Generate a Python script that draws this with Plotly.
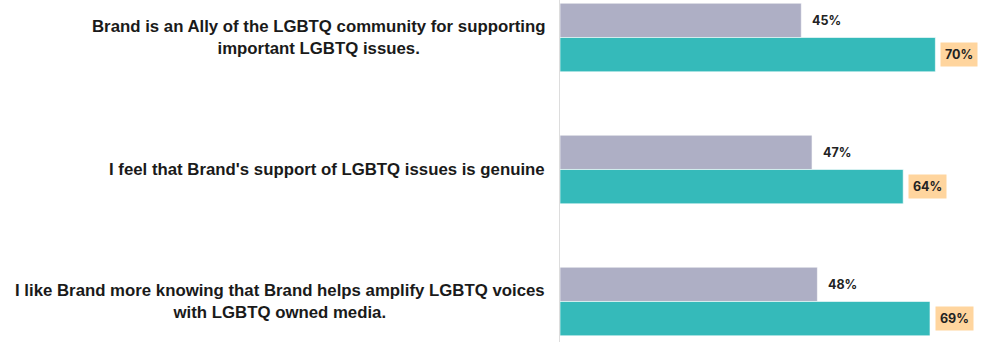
import plotly.graph_objects as go

categories = [
    "Brand is an Ally of the LGBTQ community for supporting<br>important LGBTQ issues.",
    "I feel that Brand's support of LGBTQ issues is genuine",
    "I like Brand more knowing that Brand helps amplify LGBTQ voices<br>with LGBTQ owned media.",
]
baseline_values = [45, 47, 48]
brand_values = [70, 64, 69]

GRAY = "#AEAFC5"
TEAL = "#35BABA"
LABEL_BG = "#FFD59E"

pos = list(range(len(categories)))

fig = go.Figure()
fig.add_trace(go.Bar(
    y=pos, x=baseline_values, orientation="h", name="Baseline",
    marker=dict(color=GRAY, line=dict(color="rgba(255,255,255,0.6)", width=1)),
))
fig.add_trace(go.Bar(
    y=pos, x=brand_values, orientation="h", name="Brand",
    marker=dict(color=TEAL, line=dict(color="rgba(255,255,255,0.6)", width=1)),
))

bargap = 0.48
half = (1 - bargap) / 4  # centre offset of each bar within its group

annotations = []
for i, cat in enumerate(categories):
    bold_cat = "<br>".join(f"<b>{part}</b>" for part in cat.split("<br>"))
    annotations.append(dict(
        x=0, xref="paper", y=i, yref="y", text=bold_cat, showarrow=False,
        xanchor="right", yanchor="middle", align="center", xshift=-13,
        font=dict(family="Liberation Sans, Arial", size=16.8, color="#1a1a1a"),
    ))
    annotations.append(dict(
        x=baseline_values[i], y=i - half, text=f"<b>{baseline_values[i]}%</b>",
        showarrow=False, xanchor="left", yanchor="middle", xshift=9,
        font=dict(family="Inter", size=12.5, color="#222222"),
    ))
    annotations.append(dict(
        x=brand_values[i], y=i + half, text=f"<b>{brand_values[i]}%</b>",
        showarrow=False, xanchor="left", yanchor="middle", xshift=5,
        bgcolor=LABEL_BG, borderpad=4,
        font=dict(family="Inter", size=12.5, color="#222222"),
    ))

fig.update_layout(
    width=989, height=342,
    margin=dict(l=560, r=0, t=0, b=0),
    plot_bgcolor="white", paper_bgcolor="white",
    barmode="group", bargap=bargap, bargroupgap=0,
    showlegend=False,
    annotations=annotations,
    xaxis=dict(range=[0, 80], showgrid=False, zeroline=False,
               showticklabels=False, showline=False, fixedrange=True),
    yaxis=dict(range=[2.307, -0.284], showgrid=False, zeroline=False,
               showticklabels=False, showline=True, linecolor="#DDDDDD",
               linewidth=1, fixedrange=True),
)

fig.write_html("out.html")
